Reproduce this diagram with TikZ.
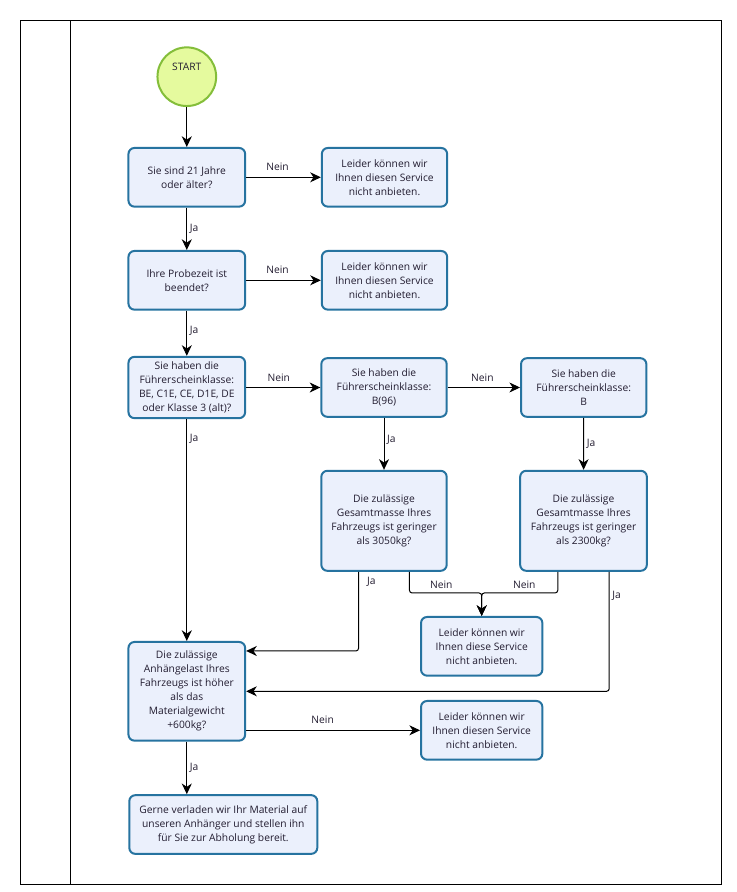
\documentclass[tikz,border=0pt]{standalone}
\usepackage{fontspec}
\setmainfont{Open Sans}
\usepackage{tikz}
\usetikzlibrary{arrows.meta,calc}
\definecolor{boxfill}{RGB}{235,240,252}
\definecolor{boxline}{RGB}{38,115,160}
\definecolor{startfill}{RGB}{229,250,158}
\definecolor{startline}{RGB}{132,190,58}
\definecolor{ink}{RGB}{34,28,48}
\tikzset{
  qbox/.style={draw=boxline, fill=boxfill, line width=1.5pt, rounded corners=4.5pt,
    align=center, inner sep=0pt, text=ink},
  startcirc/.style={circle, draw=startline, fill=startfill, line width=1.5pt,
    minimum size=44pt, inner sep=0pt, text height=6pt, text depth=16pt, text=ink},
  flow/.style={draw, line width=0.75pt, rounded corners=2pt,
    -{Stealth[length=8pt,width=7.5pt,inset=2.5pt]}},
  lab/.style={text=ink, inner sep=2pt}
}

\begin{document}
\begin{tikzpicture}[x=0.75pt, y=-0.75pt, font=\fontsize{7.7pt}{10.5pt}\selectfont]
                \useasboundingbox (0,0) rectangle (737,892);
                % frame with the narrow lane on the left
                \draw[line width=1pt] (20.3,20.3) rectangle (721.5,884.3);
                \draw[line width=1pt] (70.3,20.3) -- (70.3,884.3);

                % Start
                \node[startcirc] (start) at (186.8,76.7) {START};

                % Questions and answers
                \node[qbox, minimum width=87.5pt, minimum height=44pt] (q1) at (186.8,177.3) {Sie sind 21 Jahre\\oder älter?};
                \node[qbox, minimum width=94pt, minimum height=44pt] (no1) at (384.5,177.3) {Leider können wir\\Ihnen diesen Service\\nicht anbieten.};
                \node[qbox, minimum width=87.5pt, minimum height=44pt] (q2) at (186.8,280.3) {Ihre Probezeit ist\\beendet?};
                \node[qbox, minimum width=94pt, minimum height=44pt] (no2) at (384.5,280.3) {Leider können wir\\Ihnen diesen Service\\nicht anbieten.};
                \node[qbox, minimum width=87.5pt, minimum height=46pt] (q3) at (186.8,387.5) {Sie haben die\\Führerscheinklasse:\\BE, C1E, CE, D1E, DE\\oder Klasse 3 (alt)?};
                \node[qbox, minimum width=94pt, minimum height=44pt] (b96) at (384,387.5) {Sie haben die\\Führerscheinklasse:\\B(96)};
                \node[qbox, minimum width=94pt, minimum height=44pt] (bk) at (583.7,387.5) {Sie haben die\\Führerscheinklasse:\\B};
                \node[qbox, minimum width=94pt, minimum height=75pt] (g1) at (384,520.8) {Die zulässige\\Gesamtmasse Ihres\\Fahrzeugs ist geringer\\als 3050kg?};
                \node[qbox, minimum width=95pt, minimum height=75pt] (g2) at (583.5,520.8) {Die zulässige\\Gesamtmasse Ihres\\Fahrzeugs ist geringer\\als 2300kg?};
                \node[qbox, minimum width=91pt, minimum height=44pt] (no3) at (481.7,646.3) {Leider können wir\\Ihnen diese Service\\nicht anbieten.};
                \node[qbox, minimum width=87.5pt, minimum height=74pt] (anh) at (186.8,691.3) {Die zulässige\\Anhängelast Ihres\\Fahrzeugs ist höher\\als das\\Materialgewicht\\+600kg?};
                \node[qbox, minimum width=91pt, minimum height=44pt] (no4) at (481.7,730.3) {Leider können wir\\Ihnen diesen Service\\nicht anbieten.};
                \node[qbox, minimum width=141pt, minimum height=44pt] (fin) at (223.3,824.5) {Gerne verladen wir Ihr Material auf\\unseren Anhänger und stellen ihn\\für Sie zur Abholung bereit.};

                % points on the lower edges of the weight questions
                \coordinate (g1ja) at ($(g1.south west)!0.3!(g1.south east)$);
                \coordinate (g1nein) at ($(g1.south west)!0.7!(g1.south east)$);
                \coordinate (g2ja) at ($(g2.south west)!0.7!(g2.south east)$);
                \coordinate (g2nein) at ($(g2.south west)!0.3!(g2.south east)$);
                \coordinate (join) at ($(no3.north)+(0,-23)$);

                % Connectors
                \draw[flow] (start) -- (q1);
                \draw[flow] (q1) -- node[lab, above=2.5pt, pos=0.42] {Nein} (no1);
                \draw[flow] (q1) -- node[lab, right, pos=0.5] {Ja} (q2);
                \draw[flow] (q2) -- node[lab, above=2.5pt, pos=0.42] {Nein} (no2);
                \draw[flow] (q2) -- node[lab, right, pos=0.45] {Ja} (q3);
                \draw[flow] (q3) -- node[lab, above=2pt, pos=0.44] {Nein} (b96);
                \draw[flow] (b96) -- node[lab, above=2pt, pos=0.48] {Nein} (bk);
                \draw[flow] (q3) -- node[lab, right, pos=0.09] {Ja} (anh);
                \draw[flow] (b96) -- node[lab, right, pos=0.43] {Ja} (g1);
                \draw[flow] (bk) -- node[lab, right, pos=0.5] {Ja} (g2);
                \draw[flow] (g1ja) |- node[lab, right=4pt, pos=0.06] {Ja} ($(anh.north east)+(0,10)$);
                \draw[flow] (g2ja) |- node[lab, right, pos=0.1] {Ja} (anh.east);
                \draw[flow] (g1nein) |- node[lab, above=1pt, pos=0.72] {Nein} (join) -- (no3.north);
                \draw[flow] (g2nein) |- node[lab, above=1pt, pos=0.72] {Nein} (join) -- (no3.north);
                \draw[flow] (anh.east |- no4.west) -- node[lab, above=2.5pt, pos=0.44] {Nein} (no4.west);
                \draw[flow] (anh) -- node[lab, right, pos=0.5] {Ja} (anh |- fin.north);
            \end{tikzpicture}
\end{document}
